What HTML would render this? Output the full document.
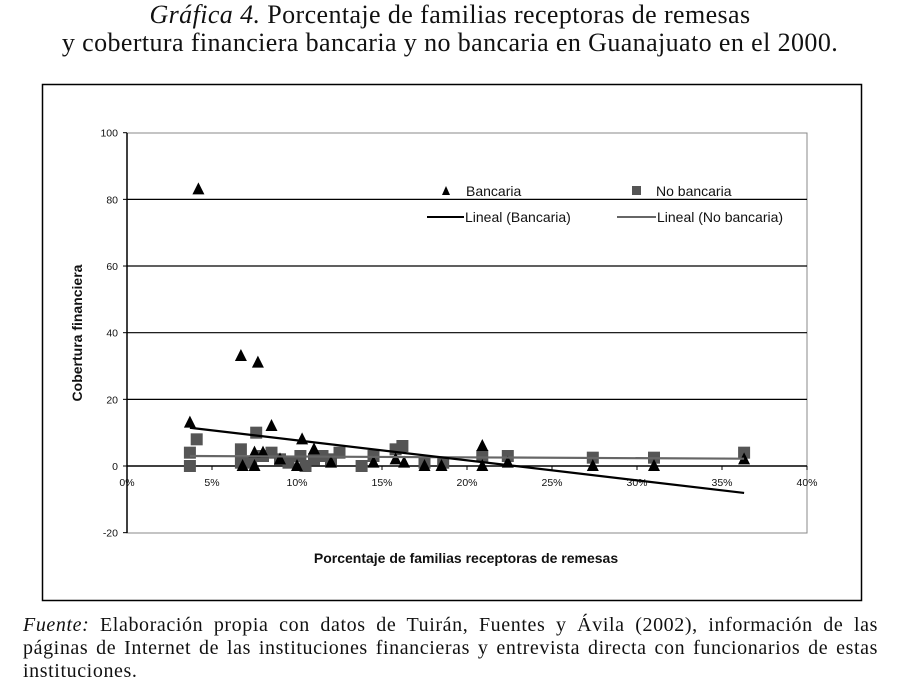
<!DOCTYPE html>
<html><head><meta charset="utf-8"><style>
body{margin:0;width:900px;height:689px;background:#fff;overflow:hidden;position:relative;font-family:"Liberation Serif",serif}
.t{position:absolute;left:0;width:900px;text-align:center;font-size:26px;letter-spacing:0.4px;color:#111}
.f{position:absolute;left:23px;width:855px;font-size:20px;letter-spacing:0.6px;color:#111;text-align:justify;text-align-last:justify;white-space:nowrap}
</style></head><body>
<div class="t" style="top:0px"><i>Gráfica 4.</i> Porcentaje de familias receptoras de remesas</div>
<div class="t" style="top:28px">y cobertura financiera bancaria y no bancaria en Guanajuato en el 2000.</div>
<svg id="c" width="900" height="689" style="position:absolute;left:0;top:0" font-family="Liberation Sans, sans-serif">
<rect x="42.5" y="84.5" width="819" height="516" fill="none" stroke="#000" stroke-width="1.5"/>
</svg>
<div class="f" style="top:614px"><i>Fuente:</i> Elaboración propia con datos de Tuirán, Fuentes y Ávila (2002), información de las</div>
<div class="f" style="top:637px">páginas de Internet de las instituciones financieras y entrevista directa con funcionarios de estas</div>
<div class="f" style="top:660px;text-align-last:left">instituciones.</div>
<script>
const xTicks=[0,5,10,15,20,25,30,35,40];
const yTicks=[-20,0,20,40,60,80,100];
const bancX=[4.2,6.7,7.7,3.7,8.5,10.3,11.0,7.5,8.0,6.8,7.5,9.0,10.0,12.0,14.5,15.8,16.3,17.5,18.5,20.9,20.9,22.4,27.4,31.0,36.3];
const bancY=[83,33,31,13,12,8,5,4,4,0,0,2,0,1,1,2,1,0,0,6,0,1,0,0,2];
const noBancX=[3.7,3.7,4.1,6.7,6.7,7.6,7.3,8.0,8.5,9.0,9.5,10.2,10.5,11.0,11.5,12.0,12.5,13.8,14.5,15.8,16.2,17.5,18.6,20.9,22.4,27.4,31.0,36.3];
const noBancY=[4,0,8,5,1,10,1,3,4,2,1,3,0,2,3,2,4,0,3,5,6,1,1,3,3,2.5,2.5,4];
const trendBanc=[13.7,-0.6];
const trendNoBanc=[3.1,-0.025];
const trendRange=[3.7,36.3];
const svg=document.getElementById('c');const NS='http://www.w3.org/2000/svg';
const X=v=>127+v*17, Y=v=>466-v*3.333;
function mk(t,a,p){const e=document.createElementNS(NS,t);for(const k in a)e.setAttribute(k,a[k]);(p||svg).appendChild(e);return e;}
let e=mk('rect',{x:127,y:133,width:680,height:400,fill:'none',stroke:'#888'});


yTicks.forEach(v=>{
 if(v!==0&&v!==-20&&v!==100){e=mk('line',{x1:127,x2:807,y1:Y(v),y2:Y(v),stroke:'#000','stroke-width':1.2});
 
 }
 mk('line',{x1:123,x2:127,y1:Y(v),y2:Y(v),stroke:'#000'});
 e=mk('text',{x:118,y:Y(v)+4,'font-size':10.5,'text-anchor':'end',fill:'#111'});e.textContent=v;
 
 
});
e=mk('line',{x1:127,x2:127,y1:133,y2:533,stroke:'#000','stroke-width':1.5});


e=mk('line',{x1:127,x2:807,y1:Y(0),y2:Y(0),stroke:'#000','stroke-width':1.5});


xTicks.forEach(v=>{
 mk('line',{x1:X(v),x2:X(v),y1:466,y2:470,stroke:'#000'});
 e=mk('text',{x:X(v),y:486,'font-size':10.5,'text-anchor':'middle',fill:'#111'});e.textContent=v+'%';
 
 
});
function tl(tr,col,name){e=mk('line',{x1:X(trendRange[0]),y1:Y(tr[0]+tr[1]*trendRange[0]),x2:X(trendRange[1]),y2:Y(tr[0]+tr[1]*trendRange[1]),stroke:col,'stroke-width':2.2});
 
 }
noBancX.forEach((x,i)=>{e=mk('rect',{x:X(x)-6,y:Y(noBancY[i])-6,width:12,height:12,fill:'#555'});
 
 });
bancX.forEach((x,i)=>{const cx=X(x),cy=Y(bancY[i]);e=mk('polygon',{points:`${cx},${cy-7} ${cx-6},${cy+5} ${cx+6},${cy+5}`,fill:'#000'});
 
 });
tl(trendNoBanc,'#666','trend-no-bancaria');
tl(trendBanc,'#000','trend-bancaria');
const lg=mk('g',{});


mk('polygon',{points:'446,186 442,195 450,195',fill:'#000'},lg);
mk('rect',{x:632,y:186,width:9,height:9,fill:'#555'},lg);
mk('line',{x1:427,x2:464,y1:217,y2:217,stroke:'#000','stroke-width':2},lg);
mk('line',{x1:617,x2:656,y1:217,y2:217,stroke:'#666','stroke-width':2},lg);
[['Bancaria',466,196],['No bancaria',656,196],['Lineal (Bancaria)',465,222],['Lineal (No bancaria)',657,222]].forEach(a=>{
 e=mk('text',{x:a[1],y:a[2],'font-size':14,fill:'#111'},lg);e.textContent=a[0];
 
 });
e=mk('text',{x:466,y:563,'font-size':14,'font-weight':'bold','text-anchor':'middle',fill:'#111'});e.textContent='Porcentaje de familias receptoras de remesas';


e=mk('text',{x:82,y:333,'font-size':14,'font-weight':'bold','text-anchor':'middle',fill:'#111',transform:'rotate(-90 82 333)'});e.textContent='Cobertura financiera';


</script>
</body></html>
